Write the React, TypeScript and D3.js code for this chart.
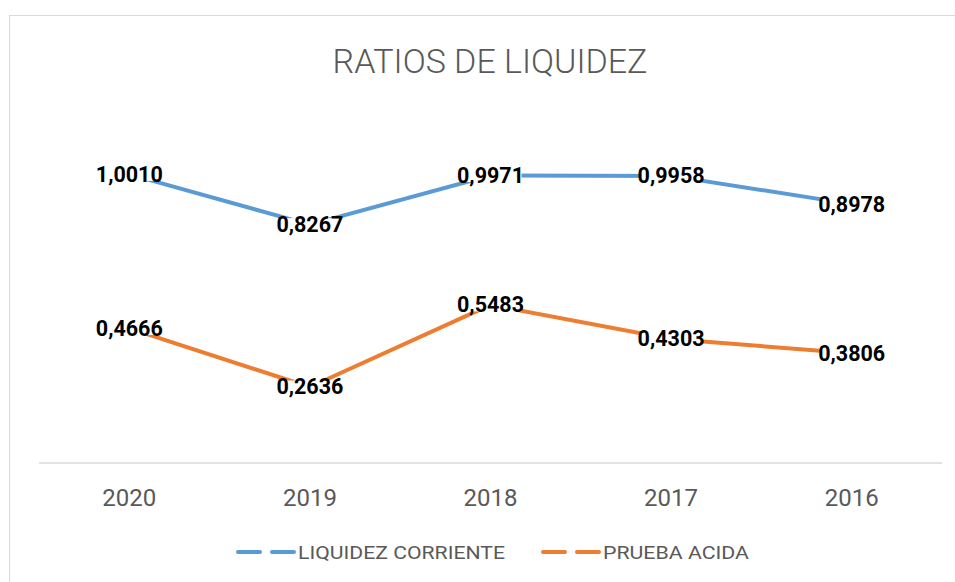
import React from "react";
import * as d3 from "d3";

const years = ["2020", "2019", "2018", "2017", "2016"];
const liquidezCorriente = [1.001, 0.8267, 0.9971, 0.9958, 0.8978];
const pruebaAcida = [0.4666, 0.2636, 0.5483, 0.4303, 0.3806];
const seriesNames = ["LIQUIDEZ CORRIENTE", "PRUEBA ACIDA"];
const seriesColors = ["#5B9BD5", "#ED7D31"];
const title = "RATIOS DE LIQUIDEZ";

const W = 955;
const H = 582;
const plot = { left: 39, right: 942, top: 117, bottom: 463 };
const fontFamily = "Roboto, 'Open Sans', sans-serif";

function fmt(v: number) {
  return v.toFixed(4).replace(".", ",");
}

export default function App() {
  const x = d3
    .scaleBand<string>()
    .domain(years)
    .range([plot.left, plot.right])
    .padding(0);
  const y = d3.scaleLinear().domain([0, 1.2]).range([plot.bottom, plot.top]);
  const line = d3
    .line<number>()
    .x((_, i) => (x(years[i]) as number) + x.bandwidth() / 2)
    .y((d) => y(d));

  const series = [liquidezCorriente, pruebaAcida];
  const legendX = [238, 543];
  const legendTextW = [207, 146];

  return (
    <svg
      width={W}
      height={H}
      style={{ position: "absolute", left: 0, top: 0, background: "#fff" }}
    >
      <rect x={0} y={0} width={W} height={H} fill="#fff" />
      <rect
        x={9.5}
        y={15.5}
        width={1000}
        height={700}
        fill="none"
        stroke="#d9d9d9"
        strokeWidth={1}
      />
      <text
        x={490}
        y={73}
        textAnchor="middle"
        fontFamily={fontFamily}
        fontWeight={300}
        fontSize={34}
        fill="#595959"
      >
        {title}
      </text>
      <line
        x1={plot.left}
        x2={plot.right}
        y1={plot.bottom}
        y2={plot.bottom}
        stroke="#d9d9d9"
        strokeWidth={1.5}
      />
      {years.map((yr) => (
        <text
          key={yr}
          x={(x(yr) as number) + x.bandwidth() / 2}
          y={506}
          textAnchor="middle"
          fontFamily={fontFamily}
          fontSize={24}
          fill="#595959"
        >
          {yr}
        </text>
      ))}
      {series.map((s, si) => (
        <path
          key={"l" + si}
          d={line(s) || ""}
          fill="none"
          stroke={seriesColors[si]}
          strokeWidth={4}
          strokeLinejoin="round"
        />
      ))}
      {series.map((s, si) =>
        s.map((v, i) => {
          const cx = (x(years[i]) as number) + x.bandwidth() / 2;
          const cy = y(v);
          return (
            <g key={"lab" + si + "-" + i}>
              <rect x={cx - 31} y={cy - 6.5} width={62} height={13} fill="#fff" />
              <text
                x={cx}
                y={cy + 7.5}
                textAnchor="middle"
                fontFamily={fontFamily}
                fontWeight={700}
                fontSize={21.5}
                fill="#000"
              >
                {fmt(v)}
              </text>
            </g>
          );
        })
      )}
      {seriesNames.map((name, si) => (
        <g key={"leg" + si}>
          <line
            x1={legendX[si]}
            x2={legendX[si] + 56}
            y1={552}
            y2={552}
            stroke={seriesColors[si]}
            strokeWidth={4}
            strokeDasharray="22 12"
            strokeLinecap="round"
          />
          <text
            x={legendX[si] + 60}
            y={559}
            fontFamily={fontFamily}
            fontSize={19}
            fill="#595959"
            textLength={legendTextW[si]}
            lengthAdjust="spacingAndGlyphs"
          >
            {name}
          </text>
        </g>
      ))}
    </svg>
  );
}
